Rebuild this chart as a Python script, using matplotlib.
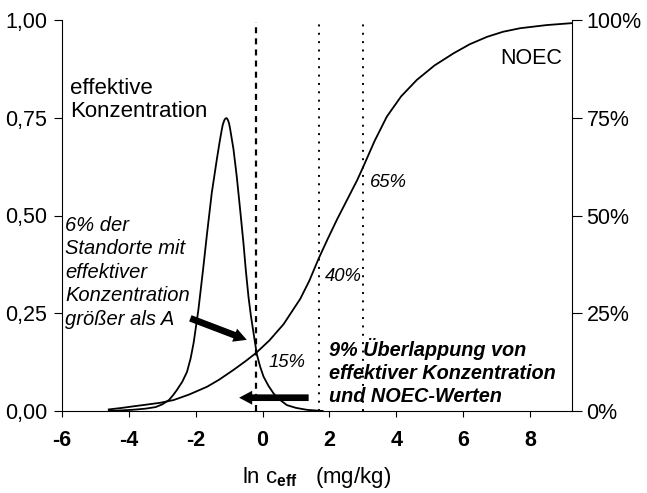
import matplotlib
matplotlib.use('Agg')
import matplotlib.pyplot as plt

plt.rcParams['font.family'] = ['Liberation Sans', 'DejaVu Sans']
plt.rcParams['mathtext.fontset'] = 'custom'
plt.rcParams['mathtext.rm'] = 'Liberation Sans'
plt.rcParams['mathtext.bf'] = 'Liberation Sans:bold'

# effektive Konzentration (Dichte)
eff_x = [-4.6, -3.9, -3.5, -3.2, -3.0, -2.8, -2.68, -2.56, -2.4, -2.26, -2.15, -2.06,
         -1.92, -1.78, -1.66, -1.52, -1.37, -1.28, -1.22, -1.19, -1.15, -1.13, -1.09,
         -1.06, -1.03, -1.0, -0.97, -0.87, -0.77, -0.67, -0.57, -0.5, -0.42, -0.35,
         -0.27, -0.17, -0.07, 0.03, 0.18, 0.33, 0.5, 0.73, 1.0, 1.33, 1.8]
eff_y = [0.0, 0.003, 0.006, 0.01, 0.017, 0.028, 0.04, 0.054, 0.075, 0.1, 0.135, 0.175,
         0.258, 0.361, 0.454, 0.557, 0.642, 0.69, 0.719, 0.732, 0.742, 0.746, 0.749,
         0.748, 0.743, 0.735, 0.722, 0.67, 0.599, 0.515, 0.429, 0.36, 0.292, 0.245,
         0.2, 0.145, 0.113, 0.088, 0.064, 0.045, 0.03, 0.015, 0.008, 0.003, 0.0]

# NOEC Summenkurve
noec_x = [-4.6, -4.2, -3.86, -3.5, -3.06, -2.66, -2.2, -1.66, -1.3, -0.87, -0.5, -0.2,
          0.2, 0.63, 1.13, 1.4, 1.68, 1.95, 2.23, 2.53, 2.83, 3.0, 3.35, 3.72, 4.15,
          4.62, 5.15, 5.72, 6.2, 6.72, 7.2, 7.71, 8.5, 9.26]
noec_y = [0.004, 0.008, 0.012, 0.016, 0.021, 0.028, 0.042, 0.062, 0.08, 0.105, 0.128, 0.148,
          0.18, 0.222, 0.287, 0.333, 0.39, 0.44, 0.49, 0.54, 0.59, 0.622, 0.69, 0.753, 0.805,
          0.847, 0.884, 0.915, 0.938, 0.957, 0.97, 0.979, 0.987, 0.992]

x_ticks = [-6, -4, -2, 0, 2, 4, 6, 8]
y_ticks = [0, 0.25, 0.5, 0.75, 1.0]
y_left_labels = ['0,00', '0,25', '0,50', '0,75', '1,00']
y_right_labels = ['0%', '25%', '50%', '75%', '100%']

line_A = -0.2
lines_dot = [1.68, 3.0]

fig = plt.figure(figsize=(6.47, 4.93), dpi=100)
ax = fig.add_axes([62/647, 1-411/493, (572-62)/647, (411-20)/493])
ax.set_xlim(-6, 9.26)
ax.set_ylim(0, 1)

ax.plot(eff_x, eff_y, color='black', lw=1.3, solid_joinstyle='round')
ax.plot(noec_x, noec_y, color='black', lw=1.3, solid_joinstyle='round')

ax.plot([line_A, line_A], [0, 0.996], color='black', lw=1.6, linestyle=(0, (2.7, 2.3)))
for xd in lines_dot:
    ax.plot([xd, xd], [0, 1.0], color='black', lw=1.4, linestyle=(0, (1, 3.3)))

ax.spines['top'].set_visible(False)
ax.spines['right'].set_visible(False)
for s in ['left', 'bottom']:
    ax.spines[s].set_linewidth(0.8)

ax.set_xticks(x_ticks)
ax.set_xticklabels([str(v) for v in x_ticks], fontsize=15.5, fontweight='bold')
ax.set_yticks(y_ticks)
ax.set_yticklabels(y_left_labels, fontsize=15.5)
ax.tick_params(axis='x', direction='out', length=4, width=0.8, pad=10)
ax.tick_params(axis='y', direction='out', length=6, width=0.8, pad=4.5)

ax2 = ax.twinx()
ax2.set_ylim(0, 1)
ax2.set_yticks(y_ticks)
ax2.set_yticklabels(y_right_labels, fontsize=15.5)
ax2.tick_params(axis='y', direction='out', length=7, width=0.8, pad=3.5)
for s in ['left', 'top', 'bottom']:
    ax2.spines[s].set_visible(False)
ax2.spines['right'].set_linewidth(0.8)

ax.text(-5.76, 0.852, 'effektive\nKonzentration', fontsize=16, ha='left', va='top',
        linespacing=1.15)
ax.text(8.96, 0.902, 'NOEC', fontsize=15.5, ha='right', va='center')
ax.text(-5.9, 0.355, '6% der\nStandorte mit\neffektiver\nKonzentration\ngrößer als A',
        fontsize=14.5, style='italic', ha='left', va='center', linespacing=1.3)
ax.text(1.98, 0.0995, '9% Überlappung von\neffektiver Konzentration\nund NOEC-Werten',
        fontsize=14.3, style='italic', fontweight='bold', ha='left', va='center',
        linespacing=1.27)
ax.text(0.17, 0.123, '15%', fontsize=13.3, style='italic', ha='left', va='center')
ax.text(1.88, 0.345, '40%', fontsize=13.3, style='italic', ha='left', va='center')
ax.text(3.22, 0.584, '65%', fontsize=13.3, style='italic', ha='left', va='center')

arrow_style = 'simple,head_length=0.94,head_width=1.0,tail_width=0.48'
ax.annotate('', xy=(-0.47, 0.182), xytext=(-2.16, 0.237),
            arrowprops=dict(arrowstyle=arrow_style, fc='black', ec='none', lw=0,
                            mutation_scale=10, shrinkA=0, shrinkB=0))
ax.annotate('', xy=(-0.7, 0.034), xytext=(1.38, 0.034),
            arrowprops=dict(arrowstyle=arrow_style, fc='black', ec='none', lw=0,
                            mutation_scale=10, shrinkA=0, shrinkB=0))

fig.text(317/647, 1-477/493, r'ln c$_\mathbf{eff}$   (mg/kg)', fontsize=16,
         ha='center', va='center')

fig.savefig('out.png', dpi=100)
